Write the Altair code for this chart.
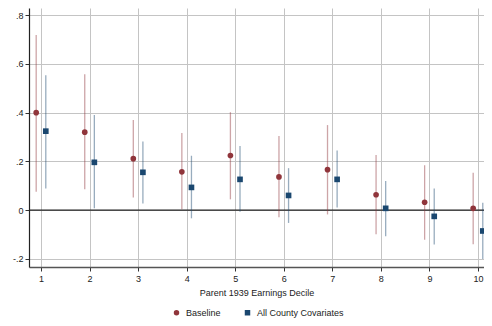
import altair as alt
import pandas as pd

deciles = [1, 2, 3, 4, 5, 6, 7, 8, 9, 10]
base_est = [0.400, 0.320, 0.211, 0.157, 0.224, 0.136, 0.166, 0.063, 0.032, 0.007]
base_lo = [0.075, 0.085, 0.052, 0.003, 0.044, -0.030, -0.018, -0.099, -0.122, -0.141]
base_hi = [0.719, 0.558, 0.370, 0.316, 0.402, 0.304, 0.349, 0.226, 0.184, 0.153]
cov_est = [0.324, 0.196, 0.155, 0.093, 0.126, 0.060, 0.126, 0.007, -0.026, -0.086]
cov_lo = [0.089, 0.007, 0.027, -0.034, -0.007, -0.053, 0.010, -0.108, -0.142, -0.201]
cov_hi = [0.554, 0.390, 0.282, 0.223, 0.263, 0.172, 0.245, 0.119, 0.088, 0.030]
series = ["Baseline", "All County Covariates"]
y_ticks = [-0.2, 0, 0.2, 0.4, 0.6, 0.8]

RED = "#90353b"
NAVY = "#1a476f"
FONT = "Liberation Sans"

base_df = pd.DataFrame({"decile": deciles, "est": base_est, "lo": base_lo,
                        "hi": base_hi, "series": series[0]})
cov_df = pd.DataFrame({"decile": deciles, "est": cov_est, "lo": cov_lo,
                       "hi": cov_hi, "series": series[1]})

xscale = alt.Scale(domain=[0.753, 10.124], nice=False, zero=False)
yscale = alt.Scale(domain=[-0.234, 0.83], nice=False, zero=False)

xaxis = alt.Axis(values=deciles, title="Parent 1939 Earnings Decile", format="d",
                 grid=True, gridColor="#c4c4c4", gridWidth=1,
                 domainColor="#555555", domainWidth=1.5,
                 tickColor="#333333", tickSize=4, labelPadding=3,
                 labelFontSize=9, titleFontSize=9, titleFontWeight="normal",
                 titlePadding=5, labelColor="#222222", titleColor="#222222",
                 labelFont=FONT, titleFont=FONT)
yaxis = alt.Axis(values=y_ticks, title=None,
                 labelExpr="datum.value == 0 ? '0' : (datum.value < 0 ? '-' : '') + '.' + format(abs(datum.value) * 10, 'd')",
                 grid=True, gridColor="#c4c4c4", gridWidth=1,
                 domainColor="#222222", domainWidth=1.2,
                 tickColor="#333333", tickSize=4, labelPadding=2,
                 labelFontSize=9, labelColor="#222222", labelFont=FONT)

color_scale = alt.Scale(domain=series, range=[RED, NAVY])
shape_scale = alt.Scale(domain=series, range=["circle", "square"])

zero = alt.Chart(pd.DataFrame({"z": [0]})).mark_rule(color="#222222", strokeWidth=1.2).encode(
    y=alt.Y("z:Q", scale=yscale, axis=yaxis)
)

def bars(df, color, off):
    return alt.Chart(df).mark_rule(color=color, strokeWidth=1.3, opacity=0.45).encode(
        x=alt.X("decile:Q", scale=xscale, axis=xaxis),
        y=alt.Y("lo:Q", scale=yscale, axis=yaxis),
        y2="hi:Q",
        xOffset=alt.value(off),
    )

def pts(df, off):
    return alt.Chart(df).mark_point(filled=True, opacity=1, size=32).encode(
        x=alt.X("decile:Q", scale=xscale, axis=xaxis),
        y=alt.Y("est:Q", scale=yscale, axis=yaxis),
        color=alt.Color("series:N", scale=color_scale,
                        legend=alt.Legend(title=None, orient="none", direction="horizontal",
                                          legendX=143, legendY=300, labelFontSize=9,
                                          labelFont=FONT, labelColor="#222222",
                                          symbolSize=30, columnPadding=22, labelOffset=5)),
        shape=alt.Shape("series:N", scale=shape_scale, legend=None),
        xOffset=alt.value(off),
    )

chart = alt.layer(
    zero,
    bars(base_df, RED, -4.8),
    bars(cov_df, NAVY, 4.8),
    pts(base_df, -4.8),
    pts(cov_df, 4.8),
).properties(
    width=455, height=259,
    autosize=alt.AutoSizeParams(type="none"),
    padding={"left": 21, "top": 0, "right": 0, "bottom": 51},
    background="white",
).configure_view(stroke=None)

chart.save("out.html", embed_options={"renderer": "svg", "actions": False})
